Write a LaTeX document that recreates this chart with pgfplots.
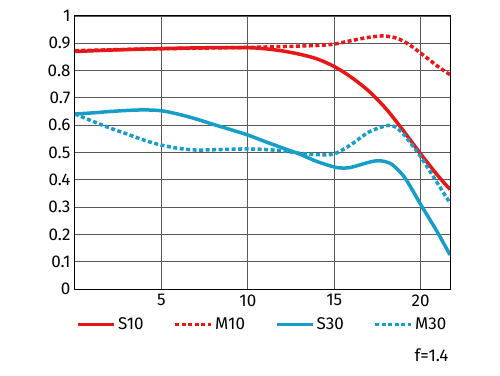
\documentclass[border=0pt]{standalone}
\usepackage{pgfplots}
\pgfplotsset{compat=1.18}
\usepackage{fontspec}
\setmainfont{Fira Sans}
\definecolor{cred}{RGB}{232,22,22}
\definecolor{cblue}{RGB}{22,158,200}
\begin{document}
\begin{tikzpicture}
\useasboundingbox (-75pt,-86pt) rectangle (425pt,289pt);
\begin{axis}[
  at={(0,0)}, anchor=south west,
  scale only axis, width=375pt, height=273pt,
  xmin=0, xmax=21.7, ymin=0, ymax=1,
  xtick={5,10,15,20}, ytick={0,0.1,...,1},
  yticklabels={0,0.1,0.2,0.3,0.4,0.5,0.6,0.7,0.8,0.9,1},
  major tick length=0pt,
  grid=major,
  major grid style={black!65, line width=0.8pt},
  axis line style={black, line width=1pt},
  tick label style={font=\fontsize{17}{20}\selectfont},
  /pgf/number format/assume math mode=true,
  yticklabel style={xshift=-1pt},
  xticklabel style={yshift=-2pt},
  legend columns=4,
  legend style={draw=none, at={(0.5,-0.09)}, anchor=north, font=\fontsize{17}{20}\selectfont,
    /tikz/every even column/.append style={column sep=28pt}},
  legend image code/.code={\draw[#1] (0pt,0pt) -- (36pt,0pt);},
  every axis plot/.append style={smooth, line width=3.5pt, mark=none},
]
\addplot[cred] coordinates {(0,0.870)(2,0.875)(4,0.879)(6,0.882)(8,0.884)(10,0.884)(11,0.880)(12,0.872)(13,0.860)(14,0.843)(15,0.815)(16,0.775)(17,0.725)(18,0.660)(19,0.580)(20,0.495)(21,0.415)(21.7,0.365)};
\addlegendentry{S10}
\addplot[cred, dash pattern=on 4pt off 2.5pt] coordinates {(0,0.873)(2,0.876)(4,0.879)(6,0.881)(8,0.883)(10,0.885)(12,0.888)(13,0.890)(14,0.892)(15,0.897)(16,0.910)(17,0.922)(17.8,0.927)(18.5,0.921)(19,0.908)(19.5,0.888)(20,0.864)(20.5,0.840)(21,0.815)(21.7,0.785)};
\addlegendentry{M10}
\addplot[cblue] coordinates {(0,0.641)(1,0.645)(2,0.650)(3,0.654)(4,0.656)(5,0.653)(6,0.640)(7,0.623)(8,0.603)(9,0.584)(10,0.564)(11,0.540)(12,0.517)(13,0.494)(14,0.467)(15,0.447)(15.5,0.443)(16,0.446)(17,0.464)(17.6,0.470)(18.3,0.458)(19,0.415)(19.5,0.365)(20,0.310)(20.5,0.258)(21,0.205)(21.7,0.125)};
\addlegendentry{S30}
\addplot[cblue, dash pattern=on 4pt off 2.5pt] coordinates {(0,0.641)(1,0.615)(2,0.590)(3,0.568)(4,0.545)(5,0.527)(6,0.515)(7,0.509)(8,0.510)(9,0.512)(10,0.513)(11,0.511)(12,0.506)(13,0.497)(14,0.492)(15,0.495)(16,0.530)(17,0.575)(18,0.598)(18.5,0.595)(19,0.568)(19.5,0.528)(20,0.485)(21,0.385)(21.7,0.315)};
\addlegendentry{M30}
\end{axis}
\node[anchor=east, font=\fontsize{17}{20}\selectfont] at (377pt,-66pt) {f=1.4};
\end{tikzpicture}
\end{document}
